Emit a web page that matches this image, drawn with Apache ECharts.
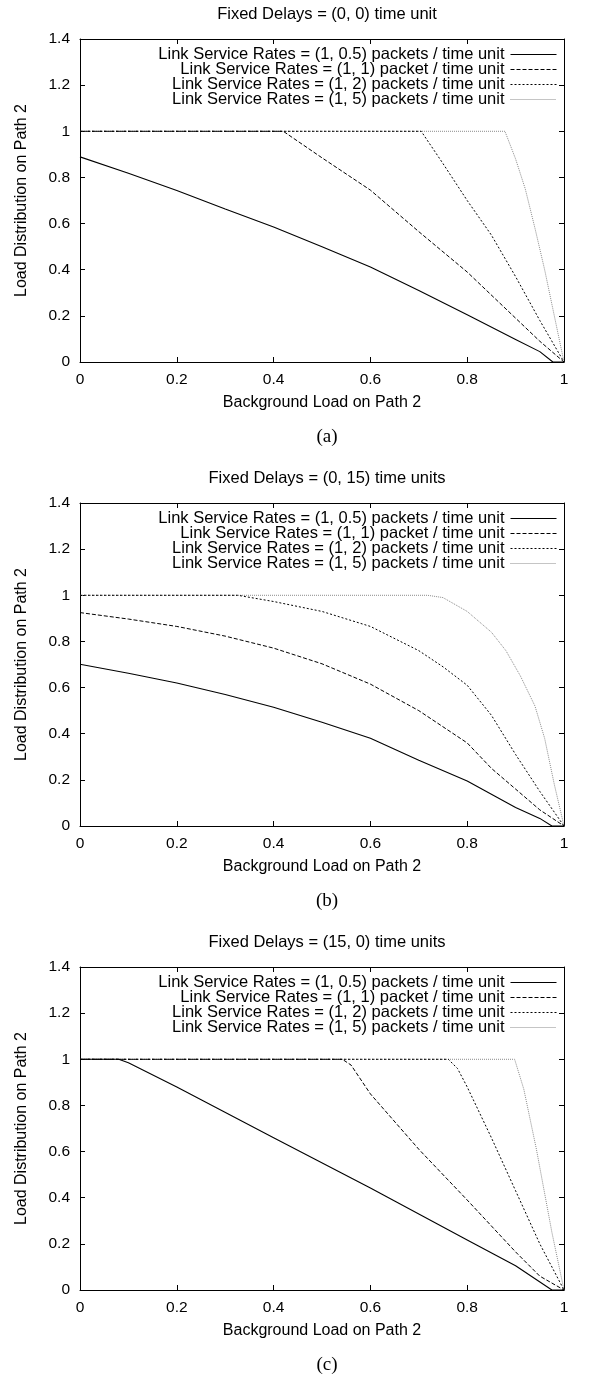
<!DOCTYPE html>
<html>
<head>
<meta charset="utf-8">
<script src="https://cdn.jsdelivr.net/npm/echarts@6/dist/echarts.min.js"></script>
<style>html,body{margin:0;padding:0;background:#fff;}#c{width:600px;height:1378px;}</style>
</head>
<body>
<div id="c"></div>
<script>
// ---------- data ----------
const xTicks = [0, 0.2, 0.4, 0.6, 0.8, 1];
const yTicks = [0, 0.2, 0.4, 0.6, 0.8, 1, 1.2, 1.4];
const panelTitles = ['Fixed Delays = (0, 0) time unit', 'Fixed Delays = (0, 15) time units', 'Fixed Delays = (15, 0) time units'];
const panelTags = ['(a)', '(b)', '(c)'];
const seriesNames = [
  'Link Service Rates = (1, 0.5) packets / time unit',
  'Link Service Rates = (1, 1) packet / time unit',
  'Link Service Rates = (1, 2) packets / time unit',
  'Link Service Rates = (1, 5) packets / time unit'
];
const xName = 'Background Load on Path 2';
const yName = 'Load Distribution on Path 2';

// panel (a)
const aR05x = [0, 0.1, 0.2, 0.3, 0.4, 0.5, 0.6, 0.7, 0.8, 0.9, 0.95, 0.977, 1];
const aR05y = [0.889, 0.818, 0.743, 0.663, 0.585, 0.5, 0.412, 0.31, 0.205, 0.098, 0.045, 0, 0];
const aR1x = [0, 0.42, 0.5, 0.6, 0.7, 0.8, 0.9, 0.95, 1];
const aR1y = [1, 1, 0.885, 0.745, 0.565, 0.39, 0.19, 0.09, 0];
const aR2x = [0, 0.705, 0.75, 0.8, 0.85, 0.9, 0.95, 1];
const aR2y = [1, 1, 0.86, 0.7, 0.55, 0.37, 0.18, 0];
const aR5x = [0, 0.878, 0.9, 0.92, 0.94, 0.96, 0.98, 1];
const aR5y = [1, 1, 0.88, 0.75, 0.58, 0.4, 0.2, 0];

// panel (b)
const bR05x = [0, 0.1, 0.2, 0.3, 0.4, 0.5, 0.6, 0.7, 0.8, 0.9, 0.95, 0.975, 1];
const bR05y = [0.701, 0.662, 0.62, 0.57, 0.515, 0.45, 0.38, 0.285, 0.195, 0.08, 0.033, 0, 0];
const bR1x = [0, 0.1, 0.2, 0.3, 0.4, 0.5, 0.6, 0.7, 0.8, 0.85, 0.9, 0.95, 1];
const bR1y = [0.925, 0.897, 0.865, 0.823, 0.771, 0.703, 0.615, 0.5, 0.36, 0.25, 0.16, 0.07, 0];
const bR2x = [0, 0.326, 0.4, 0.5, 0.6, 0.7, 0.75, 0.8, 0.85, 0.9, 0.95, 1];
const bR2y = [1, 1, 0.973, 0.93, 0.865, 0.76, 0.69, 0.61, 0.48, 0.31, 0.15, 0];
const bR5x = [0, 0.718, 0.75, 0.8, 0.85, 0.88, 0.91, 0.94, 0.96, 0.98, 1];
const bR5y = [1, 1, 0.99, 0.93, 0.84, 0.76, 0.65, 0.52, 0.38, 0.18, 0];

// panel (c)
const cR05x = [0, 0.08, 0.1, 0.2, 0.4, 0.6, 0.8, 0.9, 0.975, 1];
const cR05y = [1, 1, 0.985, 0.88, 0.66, 0.442, 0.217, 0.105, 0, 0];
const cR1x = [0, 0.542, 0.56, 0.6, 0.7, 0.8, 0.9, 0.95, 1];
const cR1y = [1, 1, 0.975, 0.85, 0.61, 0.39, 0.165, 0.06, 0];
const cR2x = [0, 0.761, 0.78, 0.8, 0.85, 0.9, 0.95, 1];
const cR2y = [1, 1, 0.96, 0.88, 0.66, 0.43, 0.2, 0];
const cR5x = [0, 0.898, 0.917, 0.943, 0.975, 1];
const cR5y = [1, 1, 0.87, 0.61, 0.25, 0];

const panels = [
  [[aR05x, aR05y], [aR1x, aR1y], [aR2x, aR2y], [aR5x, aR5y]],
  [[bR05x, bR05y], [bR1x, bR1y], [bR2x, bR2y], [bR5x, bR5y]],
  [[cR05x, cR05y], [cR1x, cR1y], [cR2x, cR2y], [cR5x, cR5y]]
];

// ---------- styles ----------
const FONT = 'Liberation Sans, Arial, sans-serif';
const lineStyles = [
  { color: '#000', width: 1.1, type: 'solid' },
  { color: '#000', width: 1, type: [4, 2] },
  { color: '#000', width: 1, type: [2, 2] },
  { color: '#8a8a8a', width: 1, type: [1, 1] }
];
const gridLeft = 80, gridRight = 36, gridH = 323;
const gridTops = [39, 503, 967];

const chart = echarts.init(document.getElementById('c'), null, { renderer: 'canvas' });

const grid = [], xAxis = [], yAxis = [], series = [], title = [], legend = [];
const plotCenter = gridLeft + (600 - gridLeft - gridRight) / 2;

gridTops.forEach((top, p) => {
  grid.push({ left: gridLeft, right: gridRight, top: top, height: gridH, containLabel: false });
  const axLine = { show: true, onZero: false, lineStyle: { color: '#000', width: 1 } };
  const tick = { show: true, inside: true, length: 5, lineStyle: { color: '#000', width: 1 } };
  xAxis.push({
    type: 'value', gridIndex: p, min: xTicks[0], max: xTicks[xTicks.length - 1], interval: 0.2,
    position: 'bottom', axisLine: axLine, axisTick: tick, splitLine: { show: false },
    axisLabel: { color: '#000', fontFamily: FONT, fontSize: 15.5, margin: 10 },
    name: xName, nameLocation: 'middle', nameGap: 33,
    nameTextStyle: { color: '#000', fontFamily: FONT, fontSize: 16 }
  });
  xAxis.push({
    type: 'value', gridIndex: p, min: xTicks[0], max: xTicks[xTicks.length - 1], interval: 0.2,
    position: 'top', axisLine: axLine, axisTick: tick, splitLine: { show: false },
    axisLabel: { show: false }
  });
  yAxis.push({
    type: 'value', gridIndex: p, min: yTicks[0], max: yTicks[yTicks.length - 1], interval: 0.2,
    position: 'left', axisLine: axLine, axisTick: tick, splitLine: { show: false },
    axisLabel: { color: '#000', fontFamily: FONT, fontSize: 15.5, margin: 10 },
    name: yName, nameLocation: 'middle', nameGap: 50,
    nameTextStyle: { color: '#000', fontFamily: FONT, fontSize: 16 }
  });
  yAxis.push({
    type: 'value', gridIndex: p, min: yTicks[0], max: yTicks[yTicks.length - 1], interval: 0.2,
    position: 'right', axisLine: axLine, axisTick: tick, splitLine: { show: false },
    axisLabel: { show: false }
  });
  panels[p].forEach((pair, i) => {
    const xs = pair[0], ys = pair[1];
    series.push({
      type: 'line', name: seriesNames[i],
      xAxisIndex: p * 2, yAxisIndex: p * 2,
      data: xs.map((x, k) => [x, ys[k]]),
      symbol: 'none', showSymbol: false, smooth: false, silent: true,
      lineStyle: lineStyles[i], itemStyle: { color: lineStyles[i].color },
      animation: false, z: 10 - i
    });
    legend.push({
      data: [seriesNames[i]], orient: 'horizontal', align: 'right',
      right: 43, top: top + 7 + i * 15, padding: 0,
      itemWidth: 46, itemHeight: 10, selectedMode: false,
      itemStyle: { opacity: 0 },
      lineStyle: { width: 1, color: lineStyles[i].color, type: lineStyles[i].type },
      textStyle: { color: '#000', fontFamily: FONT, fontSize: 16.5, padding: [0, 1, 0, 0] }
    });
  });
  title.push({
    text: panelTitles[p], left: plotCenter, textAlign: 'center', top: top - 38,
    textStyle: { color: '#000', fontFamily: FONT, fontSize: 16.5, fontWeight: 'normal' }
  });
  title.push({
    text: panelTags[p], left: plotCenter, textAlign: 'center', top: top + gridH + 61,
    textStyle: { color: '#000', fontFamily: 'Liberation Serif, Times New Roman, serif', fontSize: 19, fontWeight: 'normal' }
  });
});

chart.setOption({
  animation: false,
  backgroundColor: '#fff',
  title, grid, xAxis, yAxis, legend, series
});
</script>
</body>
</html>
